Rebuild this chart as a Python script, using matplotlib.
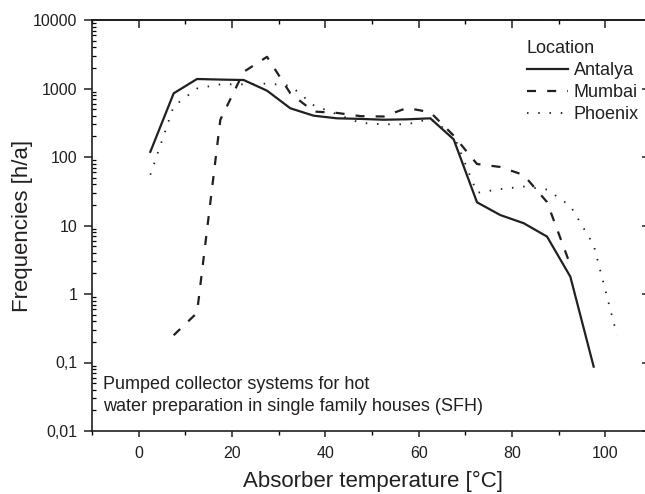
import matplotlib
matplotlib.use("Agg")
import matplotlib.pyplot as plt
from matplotlib.ticker import LogLocator, NullFormatter, FixedLocator, MultipleLocator

plt.rcParams['font.family'] = ['Liberation Sans', 'DejaVu Sans']
plt.rcParams['lines.scale_dashes'] = False

ink = '#231f20'

# absorber temperature bins (5 K classes)
x_antalya = [2.5, 7.5, 12.5, 17.5, 22.5, 27.5, 32.5, 37.5, 42.5, 47.5,
             52.5, 57.5, 62.5, 67.5, 72.5, 77.5, 82.5, 87.5, 92.5, 97.5]
antalya = [119, 850, 1376, 1350, 1330, 930, 514, 401, 367, 360,
           350, 355, 367, 181, 21.8, 14.2, 10.8, 6.9, 1.79, 0.087]

x_mumbai = [7.5, 12.5, 17.5, 22.5, 27.5, 32.5, 37.5, 42.5, 47.5,
            52.5, 57.5, 62.5, 67.5, 72.5, 77.5, 82.5, 87.5, 92.5]
mumbai = [0.25, 0.53, 350, 1750, 2900, 850, 461, 440, 395,
          390, 520, 450, 205, 79, 71.5, 54.6, 22, 2.65]

x_phoenix = [2.5, 7.5, 12.5, 17.5, 22.5, 27.5, 32.5, 37.5, 42.5, 47.5,
             52.5, 57.5, 62.5, 67.5, 72.5, 77.5, 82.5, 87.5, 92.5, 97.5, 102.5]
phoenix = [55, 550, 1000, 1150, 1150, 1180, 1100, 570, 420, 315,
           300, 300, 360, 209, 30, 34, 37, 33.5, 19.3, 5.2, 0.25]

ytick_vals = [0.01, 0.1, 1, 10, 100, 1000, 10000]
ytick_labels = ['0,01', '0,1', '1', '10', '100', '1000', '10000']

fig = plt.figure(figsize=(6.45, 4.94), dpi=100)
ax = fig.add_axes([92 / 645, 1 - 431 / 494, 560 / 645, 411 / 494])

ax.plot(x_antalya, antalya, color=ink, lw=1.6, label='Antalya')
ax.plot(x_mumbai, mumbai, color=ink, lw=1.6, linestyle=(0, (6.5, 8.0)),
        dash_capstyle='butt', label='Mumbai')
ax.plot(x_phoenix, phoenix, color=ink, lw=1.3, linestyle=(0, (1.1, 7.0)),
        dash_capstyle='butt', label='Phoenix')

ax.set_yscale('log')
ax.set_xlim(-10, 110)
ax.set_ylim(0.01, 10000)
ax.set_yticks(ytick_vals)
ax.set_yticklabels(ytick_labels)
ax.yaxis.set_minor_locator(LogLocator(base=10, subs=range(2, 10), numticks=20))
ax.yaxis.set_minor_formatter(NullFormatter())
ax.xaxis.set_major_locator(FixedLocator([0, 20, 40, 60, 80, 100]))
ax.xaxis.set_minor_locator(MultipleLocator(10))

for s in ax.spines.values():
    s.set_linewidth(1.2)
    s.set_color(ink)

ax.tick_params(axis='x', which='major', direction='out', length=4.5, width=1.1,
               pad=6.5, labelsize=11.5, colors=ink, top=False)
ax.tick_params(axis='x', which='minor', direction='out', length=3, width=1.0, top=False)
ax.tick_params(axis='y', which='major', direction='out', length=5.5, width=1.1,
               pad=5, labelsize=11.5, colors=ink, right=False)
ax.tick_params(axis='y', which='minor', direction='in', length=2.8, width=0.9, right=False)

# top and right ticks point inward
top = ax.secondary_xaxis('top')
top.xaxis.set_major_locator(FixedLocator([0, 20, 40, 60, 80, 100]))
top.xaxis.set_minor_locator(MultipleLocator(10))
top.tick_params(which='major', direction='in', length=5.8, width=1.1, labeltop=False, colors=ink)
top.tick_params(which='minor', direction='in', length=2.9, width=1.0)
top.spines['top'].set_linewidth(1.2)

right = ax.secondary_yaxis('right')
right.set_yticks(ytick_vals)
right.tick_params(which='major', direction='in', length=7.4, width=1.1, labelright=False, colors=ink)
right.tick_params(which='minor', direction='in', length=2.8, width=0.9)

ax.set_xlabel('Absorber temperature [°C]', fontsize=16, color=ink)
ax.set_ylabel('Frequencies [h/a]', fontsize=16, color=ink)
ax.xaxis.set_label_coords(0.501, -0.096)
ax.yaxis.set_label_coords(-0.106, 0.5)

leg = ax.legend(title='Location', loc='upper left', bbox_to_anchor=(0.776, 0.951),
                frameon=False, fontsize=13, title_fontsize=13, alignment='left',
                handlelength=2.3, handletextpad=0.3, labelspacing=0.28,
                borderpad=0, borderaxespad=0)
for t in leg.get_texts():
    t.set_color(ink)
leg.get_title().set_color(ink)

ax.text(-7.7, 0.0172, 'Pumped collector systems for hot\n'
        'water preparation in single family houses (SFH)',
        fontsize=13, color=ink, ha='left', va='bottom', linespacing=1.38)

fig.savefig('out.png', dpi=100)
